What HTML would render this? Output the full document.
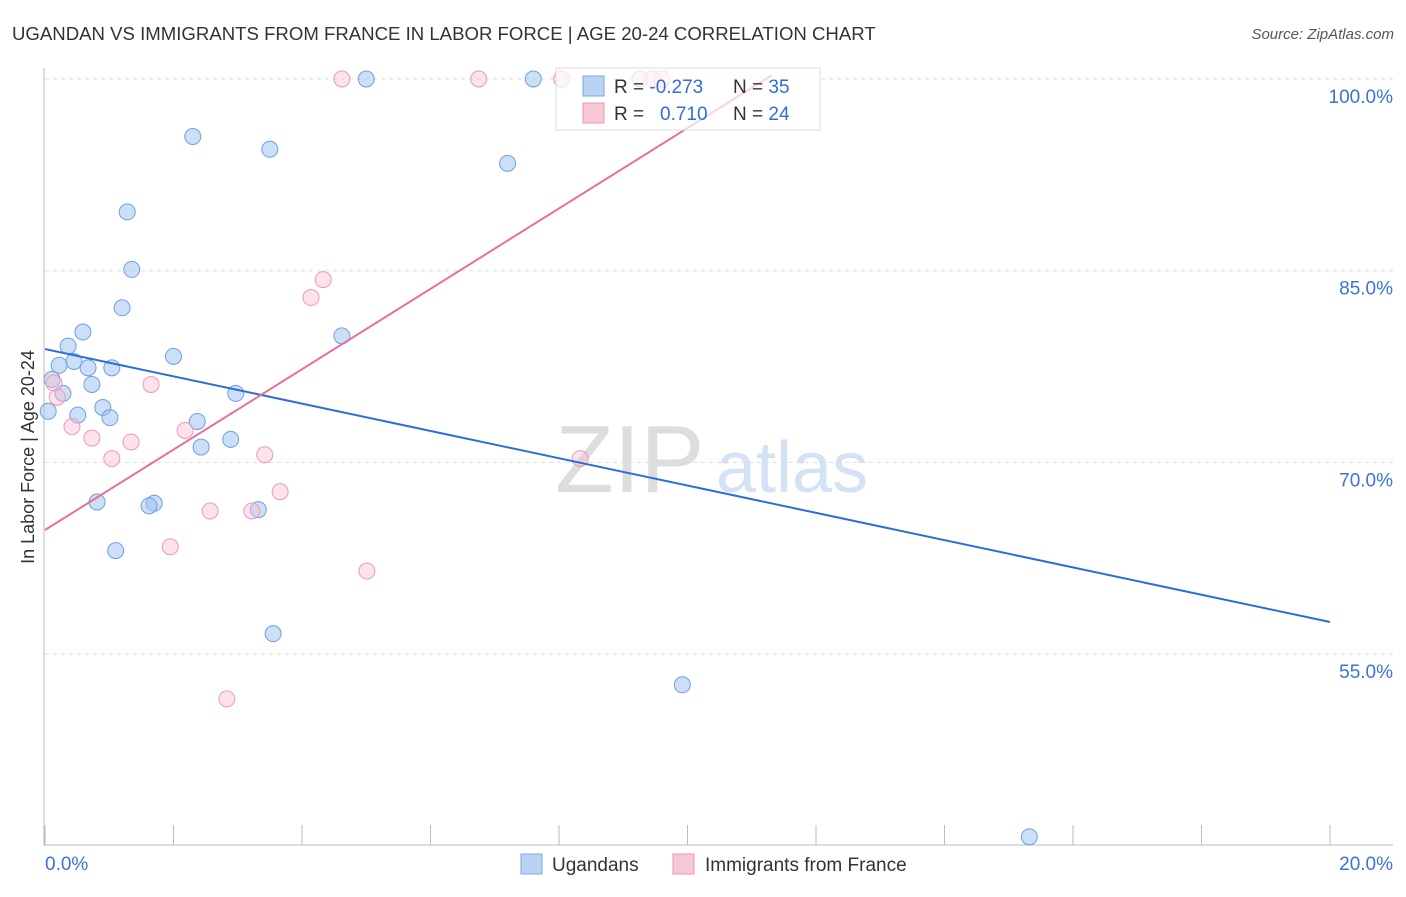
<!DOCTYPE html>
<html><head><meta charset="utf-8"><style>
body{margin:0;background:#fff;font-family:"Liberation Sans",sans-serif;}
svg text{font-family:"Liberation Sans",sans-serif;}
</style></head><body>
<svg id="c" width="1406" height="892" xmlns="http://www.w3.org/2000/svg">
<text x="12" y="40" font-size="18.6" fill="#333">UGANDAN VS IMMIGRANTS FROM FRANCE IN LABOR FORCE | AGE 20-24 CORRELATION CHART</text>
<text x="1394" y="39" font-size="15" fill="#555" font-style="italic" text-anchor="end">Source: ZipAtlas.com</text>
<text x="34" y="457" font-size="18" fill="#333" text-anchor="middle" transform="rotate(-90 34 457)">In Labor Force | Age 20-24</text>
<g><text x="555" y="492" font-size="96" fill="#ddd" font-family="Liberation Serif,serif">ZIP</text><text x="716" y="492" font-size="72" fill="#d3e2f4">atlas</text></g>
<g id="grid"></g>
<g id="marks"></g>
<g>
<rect x="556" y="68" width="264" height="62" fill="#fff" fill-opacity="0.7" stroke="#ddd"/>
<rect x="583" y="76" width="21" height="20" fill="#b8d3f4" stroke="#7aa8e6"/>
<rect x="583" y="103" width="21" height="20" fill="#f9c8d6" stroke="#ec98b2"/>
<text x="614" y="93" font-size="19" fill="#333">R = <tspan fill="#2f6fd6">-0.273</tspan></text>
<text x="733" y="93" font-size="19" fill="#333">N = <tspan fill="#2f6fd6">35</tspan></text>
<text x="614" y="120" font-size="19" fill="#333">R = <tspan fill="#2f6fd6" x="660">0.710</tspan></text>
<text x="733" y="120" font-size="19" fill="#333">N = <tspan fill="#2f6fd6">24</tspan></text>
</g>
<g>
<rect x="521" y="854" width="21" height="20" fill="#b8d3f4" stroke="#7aa8e6"/>
<text x="552" y="871" font-size="19" fill="#333">Ugandans</text>
<rect x="673" y="854" width="21" height="20" fill="#f9c8d6" stroke="#ec98b2"/>
<text x="705" y="871" font-size="19" fill="#333">Immigrants from France</text>
</g>
</svg>
<script>
const blueX=[5.0,7.6,2.3,3.5,7.2,1.28,1.35,1.2,0.59,4.62,0.36,2.0,0.45,0.22,0.67,1.04,0.11,0.73,0.28,2.97,0.9,0.05,0.51,1.01,2.37,2.89,2.43,0.81,1.7,1.62,3.32,1.1,3.55,9.92,15.32];
const blueY=[100,100,95.5,94.5,93.4,89.6,85.1,82.1,80.2,79.9,79.1,78.3,77.9,77.6,77.4,77.4,76.5,76.1,75.4,75.4,74.3,74.0,73.7,73.5,73.2,71.8,71.2,66.9,66.8,66.6,66.3,63.1,56.6,52.6,40.7];
const pinkX=[4.62,6.75,8.04,9.26,9.45,9.6,4.33,4.14,1.65,0.14,0.19,0.42,0.73,1.34,2.18,1.04,3.42,8.33,3.66,2.57,3.22,1.95,5.01,2.83];
const pinkY=[100,100,100,100,100,100,84.3,82.9,76.1,76.2,75.1,72.8,71.9,71.6,72.5,70.3,70.6,70.3,67.7,66.2,66.2,63.4,61.5,51.5];
const blueTrend=[78.87,57.51];
const pinkTrend=[64.71,3.145];
const yTicks=[100,85,70,55];
const xTickLabels=["0.0%","20.0%"];
const sx=v=>45+v*64.25, sy=v=>79+(100-v)*12.78;
const NS="http://www.w3.org/2000/svg";
const g=document.getElementById('grid'), m=document.getElementById('marks');
function mk(p,tag,a){const e=document.createElementNS(NS,tag);for(const k in a)e.setAttribute(k,a[k]);p.appendChild(e);return e;}
yTicks.forEach(t=>{
 const l=mk(g,'line',{x1:45,x2:1393,y1:sy(t),y2:sy(t),stroke:'#ddd','stroke-dasharray':'4,4'});
 
 
 const tx=mk(g,'text',{x:1393,y:sy(t)+24,'font-size':19,fill:'#3b73d6','text-anchor':'end'});tx.textContent=t.toFixed(1)+'%';
 
 
});
const ax=mk(g,'path',{d:'M44 68V845H1393',stroke:'#bbb',fill:'none'});


for(let i=0;i<=10;i++){const t=mk(g,'line',{x1:sx(i*2),x2:sx(i*2),y1:825,y2:845,stroke:'#bbb'});
 
 }
const x0=mk(g,'text',{x:45,y:870,'font-size':19,fill:'#3b73d6'});x0.textContent=xTickLabels[0];


const x1=mk(g,'text',{x:1393,y:870,'font-size':19,fill:'#3b73d6','text-anchor':'end'});x1.textContent=xTickLabels[1];


blueX.forEach((x,i)=>{const c=mk(m,'circle',{cx:sx(x),cy:sy(blueY[i]),r:8,fill:'rgba(160,196,240,0.55)',stroke:'#6f9fe0','stroke-width':1});
 
 });
pinkX.forEach((x,i)=>{const c=mk(m,'circle',{cx:sx(x),cy:sy(pinkY[i]),r:8,fill:'rgba(248,190,208,0.45)',stroke:'#eb9bb5','stroke-width':1});
 
 });
const bl=mk(m,'line',{x1:sx(0),y1:sy(blueTrend[0]),x2:sx(20),y2:sy(blueTrend[1]),stroke:'#2a6fd8','stroke-width':2});


const xe=(100.3-pinkTrend[0])/pinkTrend[1];
const pl=mk(m,'line',{x1:sx(0),y1:sy(pinkTrend[0]),x2:sx(xe),y2:sy(100.3),stroke:'#e8709a','stroke-width':2});


</script>
</body></html>
